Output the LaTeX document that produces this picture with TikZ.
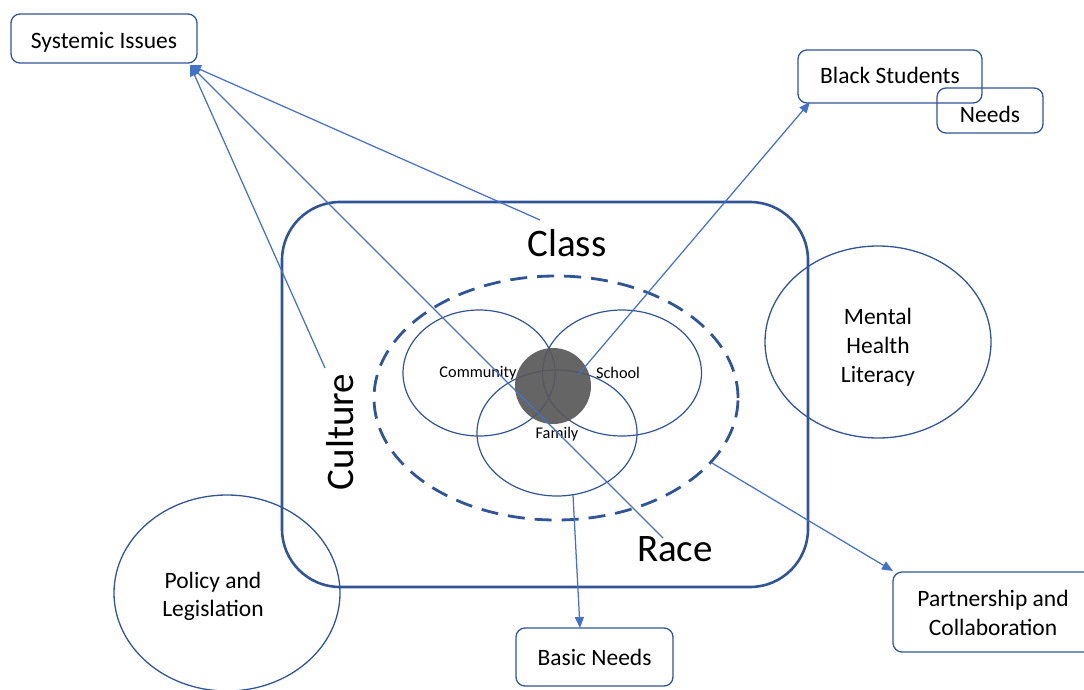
\documentclass[tikz,border=0pt]{standalone}
\usepackage{fontspec}
\setmainfont{Carlito}
\usetikzlibrary{arrows.meta,shapes.geometric}
\definecolor{bord}{HTML}{2F5597}
\definecolor{conn}{HTML}{4472C4}
\definecolor{core}{HTML}{595959}
\tikzset{
  lbox/.style={draw=bord, line width=1.3pt, rounded corners=9pt, align=center, inner sep=0pt, font=\fontsize{23.5}{29}\selectfont},
  txtpos/.style={text height=#1, text depth=0pt},
  oval/.style={draw=bord, line width=1.3pt, ellipse, inner sep=0pt, align=center},
  ring/.style={draw=bord, line width=1.2pt, ellipse, inner sep=0pt},
  lbl/.style={align=center, inner sep=0pt, font=\fontsize{23.5}{29}\selectfont},
  small/.style={font=\fontsize{16.3}{18}\selectfont, inner sep=0pt},
  big/.style={font=\fontsize{39}{44}\selectfont, inner sep=0pt},
  conarrow/.style={draw=conn, line width=1.25pt, -{Triangle[length=11pt,width=9pt]}}
}
\begin{document}
\begin{tikzpicture}[x=1pt,y=-1pt]
\useasboundingbox (0,0) rectangle (1084,690);
% frame
\node[draw=bord, line width=2.6pt, rounded corners=58pt, minimum width=526pt, minimum height=385pt, inner sep=0pt] (frame) at (545,394.5) {};
% dashed ellipse
\node[ring, line width=2.8pt, dash pattern=on 17pt off 10pt, minimum width=364pt, minimum height=244pt] (dash) at (556,398) {};
% venn
\node[ring, minimum width=152pt, minimum height=126pt] (comm) at (479,373) {};
\node[ring, minimum width=159pt, minimum height=126pt] (school) at (622,373) {};
\node[ring, minimum width=160pt, minimum height=126pt] (family) at (557,433) {};
\node[circle, fill=core, fill opacity=0.93, minimum size=76pt, inner sep=0pt] (core) at (553,386) {};
\node[small] (commlbl) at (478,373) {Community};
\node[small] (schoollbl) at (618,373) {School};
\node[small] (familylbl) at (557,434) {Family};
% big labels
\node[big] (class) at (567,243) {Class};
\node[big] (race) at (675,549) {Race};
\node[big, rotate=90] (culture) at (340,432) {Culture};
% outer nodes
\node[lbox, txtpos=20pt, minimum width=186pt, minimum height=49pt] (sys) at (104,38.5) {Systemic Issues};
\node[lbox, txtpos=15pt, minimum width=184pt, minimum height=53pt] (bs) at (890,76.5) {Black Students};
\node[lbox, txtpos=24pt, minimum width=106pt, minimum height=45pt] (needs) at (990,110.5) {Needs};
\node[lbox, txtpos=17pt, minimum width=157pt, minimum height=58pt] (basic) at (594.5,657) {Basic Needs};
\node[lbox, minimum width=200pt, minimum height=80pt] (part) at (993,612) {};
\node[lbl] (partlbl) at (993,613) {Partnership and\\Collaboration};
\node[oval, minimum width=226pt, minimum height=192pt] (mhl) at (878,342) {};
\node[lbl] (mhllbl) at (878,347) {Mental\\Health\\Literacy};
\node[oval, minimum width=226pt, minimum height=196pt] (pol) at (227,593) {};
\node[lbl, font=\fontsize{23.5}{28}\selectfont] (pollbl) at (213,596) {Policy and\\Legislation};
% connector ends
\coordinate (sysTip) at (190,65);
\coordinate (classTail) at (540,220);
\coordinate (cultTail) at (325,368);
\coordinate (raceTail) at (663,538);
\coordinate (coreTail) at (578,375);
\coordinate (bsTip) at (810,102);
\coordinate (famTail) at (573,495);
\coordinate (basicTip) at (580,628);
\coordinate (dashTail) at (712,463);
\coordinate (partTip) at (893,571);
\draw[conarrow] (classTail) -- (sysTip);
\draw[conarrow] (cultTail) -- (sysTip);
\draw[conarrow] (raceTail) -- (sysTip);
\draw[conarrow] (coreTail) -- (bsTip);
\draw[conarrow] (famTail) -- (basicTip);
\draw[conarrow] (dashTail) -- (partTip);
\end{tikzpicture}
\end{document}
